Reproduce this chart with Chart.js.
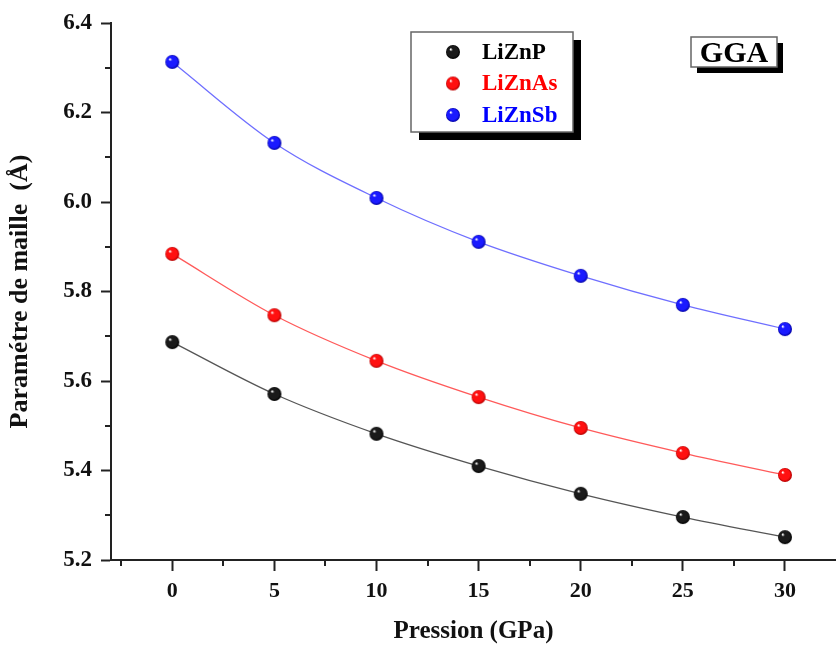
<!DOCTYPE html>
<html>
<head>
<meta charset="utf-8">
<script src="https://cdn.jsdelivr.net/npm/chart.js@4.4.1/dist/chart.umd.min.js"></script>
<style>
  html, body { margin: 0; padding: 0; background: #fff; }
  #wrap { width: 836px; height: 647px; position: relative; }
</style>
</head>
<body>
<div id="wrap"><canvas id="c" width="836" height="647"></canvas></div>
<script>
// Pressure (GPa) and lattice parameter (Å) for each compound
const pressures = [0, 5, 10, 15, 20, 25, 30];
const liZnP  = [5.687, 5.571, 5.482, 5.410, 5.348, 5.296, 5.251];
const liZnAs = [5.884, 5.747, 5.645, 5.564, 5.495, 5.439, 5.390];
const liZnSb = [6.313, 6.132, 6.009, 5.911, 5.835, 5.770, 5.716];

const seriesNames = ['LiZnP', 'LiZnAs', 'LiZnSb'];
const xMajorTicks = [0, 5, 10, 15, 20, 25, 30];
const xMinorTicks = [-2.5, 2.5, 7.5, 12.5, 17.5, 22.5, 27.5];
const yMajorTicks = [5.2, 5.4, 5.6, 5.8, 6.0, 6.2, 6.4];
const yMinorTicks = [5.3, 5.5, 5.7, 5.9, 6.1, 6.3];

const SERIF = '"Liberation Serif", "Times New Roman", serif';

// Shaded sphere sprite used as the point marker
function sphere(base, dark, r) {
  const s = r * 2 + 2;
  const cv = document.createElement('canvas');
  cv.width = s; cv.height = s;
  const g = cv.getContext('2d');
  const c = s / 2;
  const grad = g.createRadialGradient(c - r * 0.35, c - r * 0.4, r * 0.05, c, c, r);
  grad.addColorStop(0, '#ffffff');
  grad.addColorStop(0.22, base);
  grad.addColorStop(0.75, base);
  grad.addColorStop(1, dark);
  g.fillStyle = grad;
  g.beginPath();
  g.arc(c, c, r, 0, Math.PI * 2);
  g.fill();
  return cv;
}

const spheres = [
  sphere('#1a1a1a', '#000000', 7),
  sphere('#ff1010', '#b00000', 7),
  sphere('#1a1aff', '#0000a0', 7)
];
const lineColors = ['#555555', '#ff5a5a', '#6f6fff'];
const textColors = ['#000000', '#ff0000', '#0000ff'];

function toXY(ys) { return pressures.map((p, i) => ({ x: p, y: ys[i] })); }

const datasets = [liZnP, liZnAs, liZnSb].map((ys, i) => ({
  label: seriesNames[i],
  data: toXY(ys),
  borderColor: lineColors[i],
  borderWidth: 1.3,
  pointStyle: spheres[i],
  pointRadius: 7,
  pointHoverRadius: 7,
  cubicInterpolationMode: 'monotone',
  fill: false
}));

// Minor ticks on both axes
const minorTicks = {
  id: 'minorTicks',
  afterDraw(chart) {
    const ctx = chart.ctx;
    const xs = chart.scales.x, ys = chart.scales.y;
    ctx.save();
    ctx.strokeStyle = '#222';
    ctx.lineWidth = 2;
    ctx.beginPath();
    xMinorTicks.forEach(v => {
      const px = Math.round(xs.getPixelForValue(v));
      ctx.moveTo(px, xs.top); ctx.lineTo(px, xs.top + 6);
    });
    yMinorTicks.forEach(v => {
      const py = Math.round(ys.getPixelForValue(v));
      ctx.moveTo(ys.right, py); ctx.lineTo(ys.right - 6, py);
    });
    ctx.stroke();
    ctx.restore();
  }
};

// Framed boxes with a drop shadow: the legend and the method tag
function shadowBox(ctx, x, y, w, h, off) {
  ctx.fillStyle = '#000';
  ctx.fillRect(x + off, y + off, w, h);
  ctx.fillStyle = '#fff';
  ctx.fillRect(x, y, w, h);
  ctx.strokeStyle = '#666';
  ctx.lineWidth = 1.5;
  ctx.strokeRect(x, y, w, h);
}

const boxes = {
  id: 'boxes',
  afterDatasetsDraw(chart) {
    const ctx = chart.ctx;
    ctx.save();
    // legend
    shadowBox(ctx, 411, 32, 162, 100, 8);
    ctx.font = 'bold 23px ' + SERIF;
    ctx.textBaseline = 'middle';
    ctx.textAlign = 'left';
    chart.data.datasets.forEach((ds, i) => {
      const cy = 52 + i * 31.5;
      const img = ds.pointStyle;
      ctx.drawImage(img, 453 - img.width / 2, cy - img.height / 2);
      ctx.fillStyle = textColors[i];
      ctx.fillText(ds.label, 482, cy + 1);
    });
    // method tag
    shadowBox(ctx, 691, 37, 86, 30, 6);
    ctx.font = 'bold 30px ' + SERIF;
    ctx.fillStyle = '#000';
    ctx.textAlign = 'center';
    ctx.fillText('GGA', 734, 54);
    ctx.restore();
  }
};

new Chart(document.getElementById('c'), {
  type: 'line',
  data: { datasets },
  options: {
    responsive: false,
    animation: false,
    devicePixelRatio: 1,
    layout: { autoPadding: false, padding: { top: 23, right: 0, left: 0, bottom: 0 } },
    plugins: { legend: { display: false }, tooltip: { enabled: false } },
    scales: {
      x: {
        type: 'linear',
        min: -3,
        max: 32.5,
        afterBuildTicks(s) { s.ticks = xMajorTicks.map(v => ({ value: v })); },
        afterFit(s) { s.height = 87; s.paddingLeft = 0; s.paddingRight = 0; },
        grid: { drawOnChartArea: false, drawTicks: true, tickLength: 11, tickWidth: 2, tickColor: '#222' },
        border: { display: true, color: '#222', width: 2 },
        ticks: { color: '#111', font: { family: SERIF, size: 22, weight: 'bold' }, padding: 7, maxRotation: 0 },
        title: { display: true, text: 'Pression (GPa)', color: '#111',
                 font: { family: SERIF, size: 25, weight: 'bold' }, padding: { top: 0, bottom: 0 } }
      },
      y: {
        type: 'linear',
        min: 5.2,
        max: 6.4,
        afterBuildTicks(s) { s.ticks = yMajorTicks.map(v => ({ value: v })); },
        afterFit(s) { s.width = 111; s.paddingTop = 0; s.paddingBottom = 0; },
        grid: { drawOnChartArea: false, drawTicks: true, tickLength: 10, tickWidth: 2, tickColor: '#222' },
        border: { display: true, color: '#222', width: 2 },
        ticks: { color: '#111', font: { family: SERIF, size: 23, weight: 'bold' }, padding: 9,
                 callback: v => v.toFixed(1) },
        title: { display: true, text: 'Paramétre de maille  (Å)', color: '#111',
                 font: { family: SERIF, size: 26, weight: 'bold' }, padding: { top: 5, bottom: 0 } }
      }
    }
  },
  plugins: [minorTicks, boxes]
});
</script>
</body>
</html>
